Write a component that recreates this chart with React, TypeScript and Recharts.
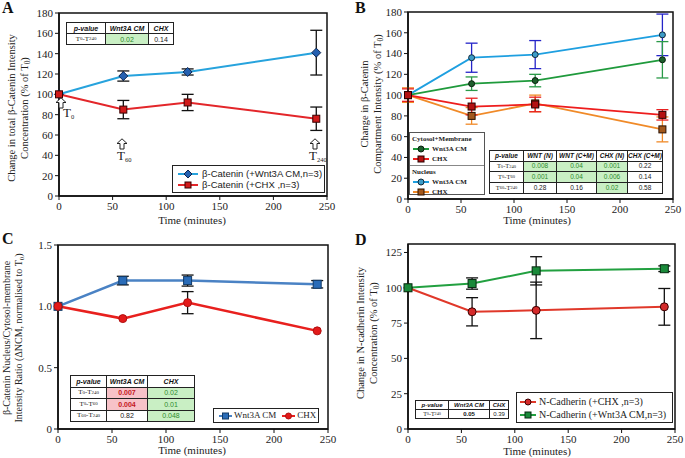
import React from "react";
import { LineChart, Line, XAxis, YAxis, ErrorBar, ReferenceArea } from "recharts";

const times = [0, 60, 120, 240];
const xTicks = [0, 50, 100, 150, 200, 250];

// A - total beta-catenin
const aWnt = [100, 118, 122, 141];
const aWntErr = [0, 5, 3, 22];
const aChx = [100, 85, 92, 76];
const aChxErr = [0, 9, 8, 11.5];
const aTicks = [0, 20, 40, 60, 80, 100, 120, 140, 160, 180];
const aHead = ["p-value", "Wnt3A CM", "CHX"];
const aRows = [["T_0-T_240", "0.02", "0.14"]];
const aMarks = [["", "g", ""]];

// B - compartments
const bNucWnt = [100, 136, 139, 158];
const bNucWntErr = [0, 14, 13.5, 20];
const bCytWnt = [100, 111, 114, 134];
const bCytWntErr = [0, 6.5, 6, 17.5];
const bCytChx = [100, 89, 91, 81];
const bCytChxErr = [6, 8, 7, 5];
const bNucChx = [100, 80, 92, 67];
const bNucChxErr = [7, 8, 8, 12];
const bHead = ["p-value", "WNT (N)", "WNT (C+M)", "CHX (N)", "CHX (C+M)"];
const bRows = [
  ["T_0-T_240", "0.008", "0.04", "0.001", "0.22"],
  ["T_0-T_60", "0.001", "0.04", "0.006", "0.14"],
  ["T_60-T_240", "0.28", "0.16", "0.02", "0.58"],
];
const bMarks = [
  ["", "g", "g", "g", ""],
  ["", "g", "g", "g", ""],
  ["", "", "", "g", ""],
];

// C - nucleus / cytosol ratio
const cWnt = [1.0, 1.21, 1.21, 1.18];
const cWntErr = [0, 0.035, 0.045, 0.03];
const cChx = [1.0, 0.9, 1.03, 0.8];
const cChxErr = [0, 0, 0.09, 0];
const cTicks = [0, 0.5, 1.0, 1.5];
const cHead = ["p-value", "Wnt3A CM", "CHX"];
const cRows = [
  ["T_0-T_240", "0.007", "0.02"],
  ["T_0-T_60", "0.004", "0.01"],
  ["T_60-T_240", "0.82", "0.048"],
];
const cMarks = [
  ["", "r", "g"],
  ["", "r", "g"],
  ["", "", "g"],
];

// D - N-cadherin
const dChx = [100, 83, 84, 86.5];
const dChxErr = [0, 10, 20, 13];
const dWnt = [100, 103, 112, 113.5];
const dWntErr = [0, 4, 10, 2];
const dTicks = [0, 25, 50, 75, 100, 125];
const dHead = ["p-value", "Wnt3A CM", "CHX"];
const dRows = [["T_0-T_240", "0.05", "0.39"]];
const dMarks = [["", "b", ""]];

const serif = "'Liberation Serif', 'Times New Roman', serif";
const sans = "'Liberation Sans', Arial, sans-serif";

type Mk = "diamond" | "square" | "circle";

const drawMark = (kind: Mk, cx: number, cy: number, size: number, fill: string, edge: string, key?: string) => {
  const r = size / 2;
  if (kind === "circle")
    return <circle key={key} cx={cx} cy={cy} r={r} fill={fill} stroke={edge} strokeWidth={1} />;
  if (kind === "square")
    return <rect key={key} x={cx - r} y={cy - r} width={size} height={size} fill={fill} stroke={edge} strokeWidth={1} />;
  return (
    <path key={key} d={`M${cx} ${cy - r - 1}L${cx + r + 1} ${cy}L${cx} ${cy + r + 1}L${cx - r - 1} ${cy}Z`} fill={fill} stroke={edge} strokeWidth={1} />
  );
};

const marker = (kind: Mk, size: number, fill: string, edge: string) => (p: any) => {
  if (p.cx == null || p.cy == null) return <g key={`e${p.index}`} />;
  return drawMark(kind, p.cx, p.cy, size, fill, edge, `m${p.index}`);
};

const rich = (s: string, subSize = "0.7em") =>
  s.split(/(_\w+)/).map((part, i) =>
    part.startsWith("_") ? (
      <span key={i} style={{ fontSize: subSize, verticalAlign: "-0.25em", lineHeight: 0 }}>
        {part.slice(1)}
      </span>
    ) : (
      <span key={i}>{part}</span>
    )
  );

type Series = {
  key: string;
  values: number[];
  errors: number[];
  color: string;
  width: number;
  mk: Mk;
  size: number;
  fill: string;
  edge: string;
  errColor: string;
};

function Panel(props: {
  left: number;
  top: number;
  width: number;
  height: number;
  margin: { top: number; right: number; bottom: number; left: number };
  yDomain: [number, number];
  yTicks: number[];
  yFmt?: (v: number) => string;
  series: Series[];
}) {
  const { left, top, width, height, margin, yDomain, yTicks, yFmt, series } = props;
  const data = times.map((t, i) => {
    const row: any = { t };
    series.forEach((s) => {
      row[s.key] = s.values[i];
      row[s.key + "Err"] = s.errors[i];
    });
    return row;
  });
  const tick = { fontFamily: serif, fontSize: 11, fill: "#222" };
  return (
    <div style={{ position: "absolute", left, top }}>
      <LineChart width={width} height={height} data={data} margin={margin}>
        <ReferenceArea x1={0} x2={250} y1={yDomain[0]} y2={yDomain[1]} fill="#fff" fillOpacity={0} stroke="#111" strokeWidth={1.5} />
        <XAxis
          type="number"
          dataKey="t"
          domain={[0, 250]}
          ticks={xTicks}
          interval={0}
          height={20}
          tick={tick}
          tickSize={4}
          axisLine={{ stroke: "#111", strokeWidth: 1.5 }}
          tickLine={{ stroke: "#111" }}
        />
        <YAxis
          type="number"
          domain={yDomain}
          ticks={yTicks}
          interval={0}
          width={30}
          tick={tick}
          tickSize={4}
          tickFormatter={yFmt}
          axisLine={{ stroke: "#111", strokeWidth: 1.5 }}
          tickLine={{ stroke: "#111" }}
        />
        {series.map((s) => (
          <Line
            key={s.key}
            type="linear"
            dataKey={s.key}
            stroke={s.color}
            strokeWidth={s.width}
            dot={marker(s.mk, s.size, s.fill, s.edge)}
            activeDot={false}
            isAnimationActive={false}
          >
            <ErrorBar dataKey={s.key + "Err"} width={6} stroke={s.errColor} strokeWidth={1.3} direction="y" />
          </Line>
        ))}
      </LineChart>
    </div>
  );
}

const markBg: Record<string, string> = { g: "#c9efc4", r: "#f7c2c8", "": "#fff", b: "#fff" };
const markFg: Record<string, string> = { g: "#2e8b2e", r: "#c4161c", "": "#222", b: "#111" };

function PTable(props: {
  left: number;
  top: number;
  colW: number[];
  rowH: number;
  head: string[];
  rows: string[][];
  marks: string[][];
  fontSize: number;
}) {
  const { left, top, colW, rowH, head, rows, marks, fontSize } = props;
  const cell = (content: React.ReactNode, key: string, extra: React.CSSProperties) => (
    <div
      key={key}
      style={{
        boxSizing: "border-box",
        borderRight: "1px solid #222",
        borderBottom: "1px solid #222",
        display: "flex",
        alignItems: "center",
        justifyContent: "center",
        whiteSpace: "nowrap",
        overflow: "hidden",
        ...extra,
      }}
    >
      {content}
    </div>
  );
  return (
    <div
      style={{
        position: "absolute",
        left,
        top,
        display: "grid",
        gridTemplateColumns: colW.map((w) => w + "px").join(" "),
        gridAutoRows: rowH + "px",
        borderTop: "1px solid #222",
        borderLeft: "1px solid #222",
        fontSize,
        background: "#fff",
        lineHeight: 1,
      }}
    >
      {head.map((h, i) => cell(h, "h" + i, { fontFamily: sans, fontWeight: 700, fontStyle: "italic", color: "#111" }))}
      {rows.map((r, ri) =>
        r.map((v, ci) => {
          const m = marks[ri][ci];
          return ci === 0
            ? cell(rich(v), `c${ri}-${ci}`, { fontFamily: serif, color: "#222" })
            : cell(v, `c${ri}-${ci}`, {
                fontFamily: sans,
                background: markBg[m],
                color: markFg[m],
                fontWeight: m === "r" || m === "b" ? 700 : 400,
              });
        })
      )}
    </div>
  );
}

function Icon(props: { color: string; mk: Mk; fill: string; edge: string; w?: number }) {
  const w = props.w ?? 22;
  return (
    <svg width={w} height={10} style={{ display: "block", flex: "none" }}>
      <line x1={1} x2={w - 1} y1={5} y2={5} stroke={props.color} strokeWidth={2} />
      {drawMark(props.mk, w / 2, 5, 6, props.fill, props.edge)}
    </svg>
  );
}

const Abs = (props: { left: number; top: number; style?: React.CSSProperties; children: React.ReactNode }) => (
  <div style={{ position: "absolute", left: props.left, top: props.top, whiteSpace: "nowrap", ...props.style }}>{props.children}</div>
);

const YLabel = (props: { cx: number; cy: number; size: number; lh: number; lines: string[] }) => (
  <div
    style={{
      position: "absolute",
      left: props.cx,
      top: props.cy,
      transform: "translate(-50%, -50%) rotate(-90deg)",
      whiteSpace: "nowrap",
      textAlign: "center",
      fontFamily: serif,
      fontSize: props.size,
      lineHeight: props.lh + "px",
      color: "#222",
    }}
  >
    {props.lines.map((l, i) => (
      <div key={i}>{rich(l)}</div>
    ))}
  </div>
);

const XLabel = (props: { cx: number; cy: number }) => (
  <div
    style={{
      position: "absolute",
      left: props.cx,
      top: props.cy,
      transform: "translate(-50%, -50%)",
      fontFamily: serif,
      fontSize: 11,
      color: "#222",
      whiteSpace: "nowrap",
    }}
  >
    Time (minutes)
  </div>
);

const Letter = (props: { left: number; top: number; text: string }) => (
  <Abs left={props.left} top={props.top} style={{ fontFamily: serif, fontWeight: 700, fontSize: 16, lineHeight: "16px", color: "#111" }}>
    {props.text}
  </Abs>
);

const Arrow = (props: { cx: number; top: number }) => (
  <svg width={12} height={12} style={{ position: "absolute", left: props.cx - 6, top: props.top }}>
    <path d="M6 0.8L11 5.5H8V11H4V5.5H1Z" fill="#fff" stroke="#222" strokeWidth={1} />
  </svg>
);

const TMark = (props: { left: number; top: number; text: string }) => (
  <Abs left={props.left} top={props.top} style={{ fontFamily: serif, fontSize: 13, lineHeight: "13px", color: "#222" }}>
    {rich(props.text, "0.5em")}
  </Abs>
);

const legendRow = (color: string, mk: Mk, fill: string, edge: string, label: string, gap = 3, w = 22) => (
  <div style={{ display: "flex", alignItems: "center", gap }}>
    <Icon color={color} mk={mk} fill={fill} edge={edge} w={w} />
    <span>{label}</span>
  </div>
);

export default function App() {
  return (
    <div style={{ position: "absolute", left: 0, top: 0, width: 685, height: 458, background: "#fff", overflow: "hidden" }}>
      {/* A */}
      <Panel
        left={0}
        top={0}
        width={340}
        height={228}
        margin={{ top: 13, right: 13, bottom: 12, left: 29 }}
        yDomain={[0, 180]}
        yTicks={aTicks}
        series={[
          { key: "wnt", values: aWnt, errors: aWntErr, color: "#27a3dd", width: 2, mk: "diamond", size: 7, fill: "#2460b0", edge: "#0c2550", errColor: "#111" },
          { key: "chx", values: aChx, errors: aChxErr, color: "#e3262a", width: 2, mk: "square", size: 7, fill: "#d01a1a", edge: "#3a0000", errColor: "#111" },
        ]}
      />
      <Letter left={2} top={0} text="A" />
      <YLabel cx={18} cy={108} size={10.5} lh={13} lines={["Change in total β-Catenin Intensity", "Concentration (% of T_0)"]} />
      <XLabel cx={192} cy={220} />
      <PTable left={66} top={22} colW={[39, 43, 25]} rowH={11} head={aHead} rows={aRows} marks={aMarks} fontSize={7} />
      <Arrow cx={61} top={97} />
      <TMark left={63} top={106} text="T_0" />
      <Arrow cx={122} top={138} />
      <TMark left={117} top={149} text="T_60" />
      <Arrow cx={315} top={138} />
      <TMark left={309} top={149} text="T_240" />
      <Abs
        left={172}
        top={165}
        style={{ width: 153, height: 28, boxSizing: "border-box", border: "1px solid #222", background: "#fff", fontFamily: sans, fontSize: 9.5, color: "#222", padding: "2px 4px", lineHeight: "11px" }}
      >
        {legendRow("#27a3dd", "diamond", "#2460b0", "#0c2550", "β-Catenin (+Wnt3A CM,n=3)")}
        {legendRow("#e3262a", "square", "#d01a1a", "#3a0000", "β-Catenin (+CHX ,n=3)")}
      </Abs>

      {/* B */}
      <Panel
        left={340}
        top={0}
        width={345}
        height={228}
        margin={{ top: 12, right: 12, bottom: 9, left: 38 }}
        yDomain={[0, 180]}
        yTicks={aTicks}
        series={[
          { key: "nw", values: bNucWnt, errors: bNucWntErr, color: "#1e9fe0", width: 1.8, mk: "circle", size: 6, fill: "#3d9cc8", edge: "#10283a", errColor: "#2424c8" },
          { key: "cw", values: bCytWnt, errors: bCytWntErr, color: "#1f9a3c", width: 1.8, mk: "circle", size: 6, fill: "#1d5e2c", edge: "#0a200e", errColor: "#2a9a48" },
          { key: "nc", values: bNucChx, errors: bNucChxErr, color: "#f08a28", width: 1.8, mk: "square", size: 7, fill: "#a2581c", edge: "#2a1000", errColor: "#f08a28" },
          { key: "cc", values: bCytChx, errors: bCytChxErr, color: "#ee1d1d", width: 1.8, mk: "square", size: 7, fill: "#b41212", edge: "#2a0000", errColor: "#e82020" },
        ]}
      />
      <Letter left={355} top={0} text="B" />
      <YLabel cx={371} cy={104} size={10.5} lh={13} lines={["Change in β-Catenin", "Compartment Intensity (% of T_0)"]} />
      <XLabel cx={537} cy={220} />
      <Abs
        left={409}
        top={132}
        style={{ width: 76, height: 63, boxSizing: "border-box", border: "1px solid #555", background: "#fff", fontFamily: serif, fontWeight: 700, fontSize: 7, color: "#222", lineHeight: "10px" }}
      >
        <div style={{ padding: "1px 2px", borderBottom: "1px solid #888" }}>
          <div>Cytosol+Membrane</div>
          {legendRow("#1f9a3c", "circle", "#1d5e2c", "#0a200e", "Wnt3A CM", 2, 18)}
          {legendRow("#ee1d1d", "square", "#b41212", "#2a0000", "CHX", 2, 18)}
        </div>
        <div style={{ padding: "1px 2px" }}>
          <div>Nucleus</div>
          {legendRow("#1e9fe0", "circle", "#3d9cc8", "#10283a", "Wnt3A CM", 2, 18)}
          {legendRow("#f08a28", "square", "#a2581c", "#2a1000", "CHX", 2, 18)}
        </div>
      </Abs>
      <PTable left={489} top={150} colW={[34, 33, 40, 31, 35]} rowH={10.7} head={bHead} rows={bRows} marks={bMarks} fontSize={6.5} />

      {/* C */}
      <Panel
        left={0}
        top={228}
        width={340}
        height={230}
        margin={{ top: 17, right: 12, bottom: 9, left: 28 }}
        yDomain={[0, 1.5]}
        yTicks={cTicks}
        yFmt={(v: number) => (v === 0 ? "0" : v.toFixed(1))}
        series={[
          { key: "wnt", values: cWnt, errors: cWntErr, color: "#4a82c4", width: 2.5, mk: "square", size: 8, fill: "#2a6cb8", edge: "#123a66", errColor: "#111" },
          { key: "chx", values: cChx, errors: cChxErr, color: "#e8201e", width: 2.5, mk: "circle", size: 8, fill: "#e31a1a", edge: "#b01010", errColor: "#111" },
        ]}
      />
      <Letter left={2} top={231} text="C" />
      <YLabel cx={13} cy={338} size={10} lh={12} lines={["β-Catenin Nucleus/Cytosol-membrane", "Intensity Ratio (ΔNCM, normalised to T_0)"]} />
      <XLabel cx={192} cy={450} />
      <PTable left={70} top={375} colW={[36, 41, 47]} rowH={11.5} head={cHead} rows={cRows} marks={cMarks} fontSize={7} />
      <Abs
        left={213}
        top={408}
        style={{ width: 106, height: 15, boxSizing: "border-box", border: "1px solid #222", background: "#fff", fontFamily: serif, fontSize: 9, color: "#222", padding: "1px 4px", lineHeight: "11px", display: "flex", gap: 5 }}
      >
        {legendRow("#4a82c4", "square", "#2a6cb8", "#123a66", "Wnt3A CM", 1, 15)}
        {legendRow("#e8201e", "circle", "#e31a1a", "#b01010", "CHX", 1, 15)}
      </Abs>

      {/* D */}
      <Panel
        left={340}
        top={228}
        width={345}
        height={230}
        margin={{ top: 16, right: 10, bottom: 9, left: 38 }}
        yDomain={[0, 131]}
        yTicks={dTicks}
        series={[
          { key: "chx", values: dChx, errors: dChxErr, color: "#e0382a", width: 2, mk: "circle", size: 8, fill: "#d42a2a", edge: "#3a0000", errColor: "#111" },
          { key: "wnt", values: dWnt, errors: dWntErr, color: "#22a040", width: 2, mk: "square", size: 8, fill: "#1a8a3a", edge: "#062a10", errColor: "#111" },
        ]}
      />
      <Letter left={355} top={232} text="D" />
      <YLabel cx={367} cy={333} size={10.5} lh={13} lines={["Change in N-cadherin Intensity", "Concentration (% of T_0)"]} />
      <XLabel cx={537} cy={451} />
      <PTable left={415} top={400} colW={[33, 41, 19]} rowH={9} head={dHead} rows={dRows} marks={dMarks} fontSize={6} />
      <Abs
        left={516}
        top={392}
        style={{ width: 157, height: 31, boxSizing: "border-box", border: "1.5px solid #222", background: "#fff", fontFamily: serif, fontSize: 10, color: "#222", padding: "2px 2px", lineHeight: "13px" }}
      >
        {legendRow("#e0382a", "circle", "#d42a2a", "#3a0000", "N-Cadherin (+CHX ,n=3)", 2, 18)}
        {legendRow("#22a040", "square", "#1a8a3a", "#062a10", "N-Cadherin (+Wnt3A CM,n=3)", 2, 18)}
      </Abs>
    </div>
  );
}
